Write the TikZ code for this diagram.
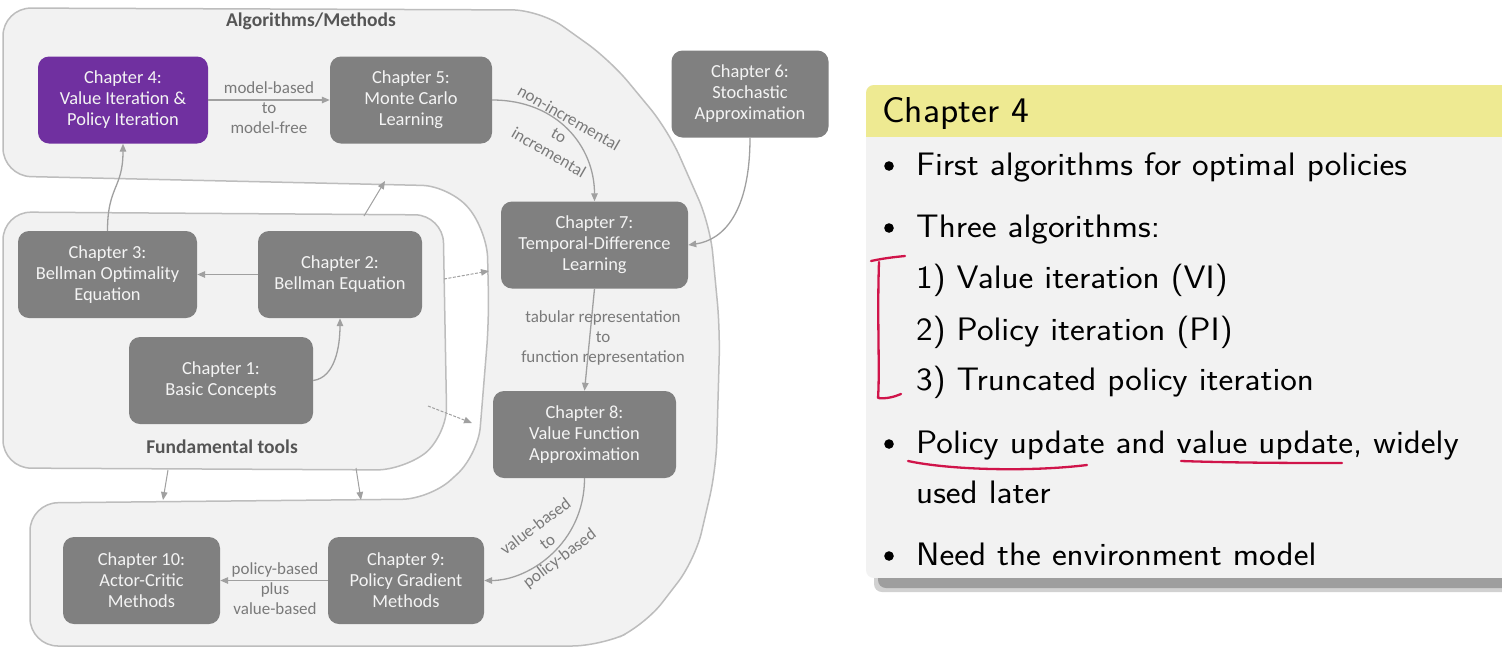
\documentclass[tikz,border=0pt]{standalone}
\usepackage{fontspec}
\setmainfont{Carlito}
\usetikzlibrary{arrows.meta}
\definecolor{boxgray}{HTML}{808080}
\definecolor{boxtxt}{HTML}{F4F4F4}
\definecolor{chpurple}{HTML}{7030A0}
\definecolor{blobfill}{HTML}{F2F2F2}
\definecolor{blobedge}{HTML}{BDBDBD}
\definecolor{arrgray}{HTML}{A0A0A0}
\definecolor{labgray}{HTML}{7A7A7A}
\definecolor{hdgray}{HTML}{555555}
\definecolor{blkyellow}{HTML}{EEEA92}
\definecolor{blkbody}{HTML}{F2F2F2}
\definecolor{inkred}{HTML}{D0144A}
\newcommand\bodyfnt{\sffamily\fontsize{32.5}{36}\selectfont}
\newcommand\titlefnt{\sffamily\fontsize{36}{40}\selectfont}
\newcommand\wideb[1]{\scalebox{1.085}[1]{#1}}
\newcommand\widet[1]{\scalebox{1.05}[1]{#1}}
\begin{document}
\begin{tikzpicture}[x=1pt,y=-1pt,
 chap/.style={rectangle,rounded corners=11pt,fill=boxgray,text=boxtxt,align=center,font=\fontsize{18.4}{21}\selectfont,minimum height=87,inner sep=2pt},
 conn/.style={draw=arrgray,line width=1.3pt,-{Triangle[length=8pt,width=6.5pt]}},
 dconn/.style={conn,dash pattern=on 3pt off 1.5pt},
 lab/.style={text=labgray,font=\fontsize{17}{20}\selectfont,align=center,inner sep=1pt},
 blob/.style={fill=blobfill,draw=blobedge,line width=1.5pt,rounded corners=28pt},
 hd/.style={text=hdgray,font=\bfseries\fontsize{19.5}{22}\selectfont},
 itm/.style={anchor=base west,inner sep=0,font=\bodyfnt},
 ink/.style={draw=inkred,line width=2.3pt,line cap=round,line join=round}
]
\useasboundingbox (0,0) rectangle (1502,649);
\fill[white] (0,0) rectangle (1502,649);

% background regions
\path[blob] (3,8) -- (540,10) -- (610,60) -- (668,130) -- (710,225) -- (720,330) -- (716,470) -- (695,560) -- (645,625) -- (600,646) -- (30,646) -- (30,503) -- (430,499) -- (478,455) -- (489,320) -- (487,230) -- (450,186) -- (3,176) -- cycle;
\path[blob] (3,212) -- (443,215) -- (447,435) -- (405,470) -- (3,468) -- cycle;

\node[hd] (halg) at (311,21) {Algorithms/Methods};
\node[hd] (hfun) at (222,447) {Fundamental tools};

% chapters
\node[chap,fill=chpurple,minimum width=170] (c4) at (123,100) {Chapter 4:\\Value Iteration \&\\Policy Iteration};
\node[chap,minimum width=162] (c5) at (411,100) {Chapter 5:\\Monte Carlo\\Learning};
\node[chap,minimum width=157] (c6) at (750,94) {Chapter 6:\\Stochastic\\Approximation};
\node[chap,minimum width=187] (c7) at (594.5,245) {Chapter 7:\\Temporal-Difference\\Learning};
\node[chap,minimum width=179] (c3) at (107.5,274.5) {Chapter 3:\\Bellman Optimality\\Equation};
\node[chap,minimum width=164] (c2) at (340,274.5) {Chapter 2:\\Bellman Equation};
\node[chap,minimum width=184] (c1) at (221,380.5) {Chapter 1:\\Basic Concepts};
\node[chap,minimum width=183] (c8) at (584.5,434.5) {Chapter 8:\\Value Function\\Approximation};
\node[chap,minimum width=156] (c9) at (406,580.5) {Chapter 9:\\Policy Gradient\\Methods};
\node[chap,minimum width=157] (c10) at (141.5,580.5) {Chapter 10:\\Actor-Critic\\Methods};

% connectors
\draw[conn] (c4) -- (c5);
\draw[conn] (c3.north) .. controls +(0,-45) and +(0,45) .. (c4.south);
\draw[conn] (c1.east) .. controls +(22,-3) and +(0,28) .. (c2.south);
\draw[conn] (c2.west) -- (c3.east);
\draw[conn] (c5.east) .. controls +(65,0) and +(0,-55) .. (c7.north);
\draw[conn] (c6.south) .. controls +(0,75) and +(35,-5) .. (c7.east);
\draw[conn] (c7.south) -- (c8.north);
\draw[conn] (c8.south) .. controls +(0,65) and +(45,0) .. (c9.east);
\draw[conn] (c9.west) -- (c10.east);

\coordinate (fa1) at (364,216); \coordinate (fa2) at (385,181);
\coordinate (fb1) at (444,279); \coordinate (fb2) at (489,271);
\coordinate (fc1) at (428,406); \coordinate (fc2) at (472,423);
\coordinate (fd1) at (168,470); \coordinate (fd2) at (163,500);
\coordinate (fe1) at (356,468); \coordinate (fe2) at (361,500);
\draw[conn,line width=1pt] (fa1) -- (fa2);
\draw[dconn,line width=1pt] (fb1) -- (fb2);
\draw[dconn,line width=1pt] (fc1) -- (fc2);
\draw[conn,line width=1pt] (fd1) -- (fd2);
\draw[conn,line width=1pt] (fe1) -- (fe2);

% labels
\node[lab] (l45) at (269,108) {model-based\\to\\model-free};
\node[lab,rotate=-30] (l57) at (559,135) {non-incremental\\to\\incremental};
\node[lab] (l78) at (603,338) {tabular representation\\to\\function representation};
\node[lab,rotate=37] (l89) at (548,543) {value-based\\to\\policy-based};
\node[lab] (l910) at (275,589) {policy-based\\plus\\value-based};

% right panel
\fill[black!18,rounded corners=8pt] (874,92) rectangle (1530,592);
\fill[black!38,rounded corners=8pt] (878,92) rectangle (1530,588);
\begin{scope}
\clip[rounded corners=8pt] (866,85) rectangle (1530,578);
\fill[blkbody] (866,85) rectangle (1530,578);
\fill[blkyellow] (866,85) rectangle (1530,137);
\end{scope}
\node[itm,font=\titlefnt] (t) at (882,122) {\widet{Chapter 4}};
\fill (889,166) circle (4.8);
\fill (889,228) circle (4.8);
\fill (889,444) circle (4.8);
\fill (889,556) circle (4.8);
\node[itm] (i1) at (916,175) {\wideb{First algorithms for optimal policies}};
\node[itm] (i2) at (916,237) {\wideb{Three algorithms:}};
\node[itm] (i3) at (916,288) {\wideb{1) Value iteration (VI)}};
\node[itm] (i4) at (916,340) {\wideb{2) Policy iteration (PI)}};
\node[itm] (i5) at (916,390) {\wideb{3) Truncated policy iteration}};
\node[itm] (i6) at (916,453) {\wideb{Policy update and value update, widely}};
\node[itm] (i7) at (916,503) {\wideb{used later}};
\node[itm] (i8) at (916,565) {\wideb{Need the environment model}};

% red ink
\draw[ink] (871,261) .. controls (885,258) and (895,257) .. (905,256);
\draw[ink] (879,262) .. controls (877,320) and (880,370) .. (878,398) .. controls (886,399) and (894,397) .. (901,394);
\draw[ink] (908,461) .. controls (950,470) and (1030,472) .. (1087,465);
\draw[ink] (1181,461) .. controls (1240,463) and (1300,463) .. (1342,463);
\end{tikzpicture}
\end{document}
